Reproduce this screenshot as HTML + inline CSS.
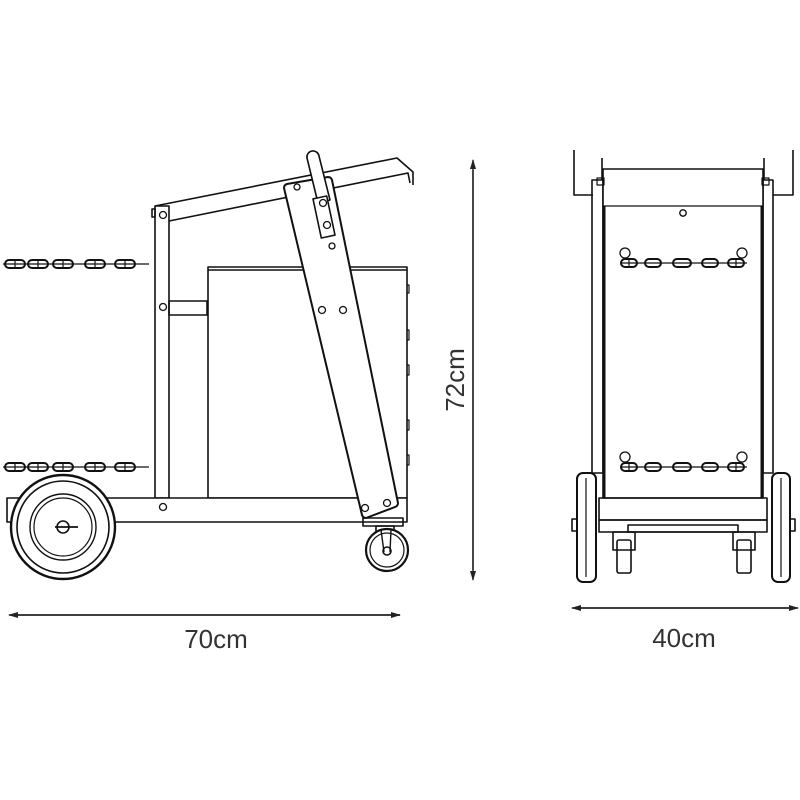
<!DOCTYPE html>
<html><head><meta charset="utf-8"><style>html,body{margin:0;padding:0;background:#fff}svg{display:block}</style></head>
<body>
<svg width="800" height="800" viewBox="0 0 800 800" xmlns="http://www.w3.org/2000/svg">
<defs>
<marker id="ar" markerWidth="10" markerHeight="6" refX="9" refY="3" orient="auto" markerUnits="userSpaceOnUse"><path d="M0,0 L10,3 L0,6 Z" fill="#222"/></marker>
<g id="chainH">
  <line x1="0" y1="0" x2="146" y2="0" stroke="#111" stroke-width="1.2"/>
  <rect x="2" y="-4" width="20" height="8" rx="4" fill="none" stroke="#111" stroke-width="2"/>
  <rect x="25" y="-4" width="20" height="8" rx="4" fill="none" stroke="#111" stroke-width="2"/>
  <rect x="50" y="-4" width="20" height="8" rx="4" fill="none" stroke="#111" stroke-width="2"/>
  <rect x="82" y="-4" width="20" height="8" rx="4" fill="none" stroke="#111" stroke-width="2"/>
  <rect x="112" y="-4" width="20" height="8" rx="4" fill="none" stroke="#111" stroke-width="2"/>
  <path d="M12,-4v8M35,-4v8M60,-4v8M92,-4v8M122,-4v8" stroke="#111" stroke-width="1.2"/>
</g>
<g id="chainF">
  <line x1="0" y1="0" x2="127" y2="0" stroke="#111" stroke-width="1.2"/>
  <circle cx="5" cy="-10" r="5" fill="none" stroke="#111" stroke-width="1.3"/>
  <circle cx="122" cy="-10" r="5" fill="none" stroke="#111" stroke-width="1.3"/>
  <rect x="1" y="-4" width="16" height="8" rx="4" fill="none" stroke="#111" stroke-width="2"/>
  <rect x="25" y="-4" width="16" height="8" rx="4" fill="none" stroke="#111" stroke-width="2"/>
  <rect x="53" y="-4" width="18" height="8" rx="4" fill="none" stroke="#111" stroke-width="2"/>
  <rect x="82" y="-4" width="16" height="8" rx="4" fill="none" stroke="#111" stroke-width="2"/>
  <rect x="108" y="-4" width="16" height="8" rx="4" fill="none" stroke="#111" stroke-width="2"/>
  <path d="M9,-4v8M116,-4v8" stroke="#111" stroke-width="1.2"/>
</g>
</defs>

<g fill="none" stroke="#111" stroke-width="1.6" stroke-linejoin="round">
<path d="M155,206 L397,158 L413,172 L413,185"/>
<path d="M169,221 L408,173 L410,183"/>
<rect x="155" y="206" width="14" height="292" fill="#fff"/>
<rect x="152" y="209" width="3" height="8"/>
<rect x="208" y="267" width="199" height="231" fill="#fff"/>
<line x1="208" y1="270" x2="407" y2="270"/>
<path d="M407,285 h2 v8 h-2 M407,330 h2 v10 h-2 M407,365 h2 v10 h-2 M407,420 h2 v10 h-2 M407,455 h2 v10 h-2" stroke-width="1.2"/>
<rect x="169" y="301" width="38" height="14"/>
<rect x="7" y="498" width="400" height="24" fill="#fff"/>
<path d="M287,184 L328,177 Q331,177 332,180 L398,503 Q398,506 395,507 L366,518 Q363,518 362,515 L284,188 Q284,185 287,184 Z" fill="#fff" stroke-width="2"/>
<path d="M307,158 a6,6 0 0 1 12,-2 L330,200 L318,203 Z" fill="#fff"/>
<rect x="317" y="197" width="14" height="40" transform="rotate(-12 324 217)" fill="#fff"/>
<g stroke-width="1.3">
<circle cx="163" cy="215" r="3.5"/><circle cx="163" cy="307" r="3.5"/><circle cx="163" cy="507" r="3.5"/>
<circle cx="297" cy="187" r="3"/><circle cx="323" cy="203" r="3.5"/><circle cx="327" cy="225" r="3.5"/><circle cx="332" cy="246" r="3"/>
<circle cx="322" cy="310" r="3.5"/><circle cx="343" cy="310" r="3.5"/><circle cx="365" cy="508" r="3.5"/><circle cx="387" cy="503" r="3.5"/>
</g>
<circle cx="63" cy="527" r="52" fill="#fff" stroke-width="2.4"/>
<circle cx="63" cy="527" r="46"/>
<circle cx="63" cy="527" r="33" stroke-width="1.4"/>
<circle cx="63" cy="527" r="29" stroke-width="1.2"/>
<circle cx="63" cy="527" r="6"/>
<line x1="55" y1="527" x2="78" y2="527" stroke-width="1.8"/>
<rect x="363" y="518" width="40" height="8"/>
<rect x="376" y="526" width="18" height="6"/>
<circle cx="387" cy="550" r="21" fill="#fff" stroke-width="2.2"/>
<circle cx="387" cy="550" r="17" stroke-width="1.2"/>
<path d="M381,530 L384,552 M391,530 L390,552" stroke-width="1.4"/>
<circle cx="387" cy="551" r="4" stroke-width="1.6"/>

<path d="M574,150 V195 H593"/>
<path d="M793,150 V195 H773"/>
<line x1="602" y1="158" x2="602" y2="180"/>
<line x1="764" y1="158" x2="764" y2="180"/>
<rect x="592" y="180" width="11" height="293"/>
<rect x="763" y="180" width="10" height="293"/>
<rect x="603" y="169" width="160" height="329" fill="#fff"/>
<line x1="603" y1="206" x2="763" y2="206" stroke-width="1.2"/>
<line x1="604" y1="206" x2="604" y2="498" stroke-width="3"/>
<line x1="762" y1="206" x2="762" y2="498" stroke-width="3"/>
<rect x="597" y="178" width="7" height="7" stroke-width="1.2"/>
<rect x="762" y="178" width="7" height="7" stroke-width="1.2"/>
<circle cx="683" cy="213" r="3.2" stroke-width="1.4"/>
<rect x="599" y="498" width="168" height="22"/>
<rect x="599" y="520" width="168" height="12"/>
<rect x="628" y="525" width="110" height="7"/>
<rect x="613" y="532" width="22" height="18"/>
<rect x="617" y="540" width="14" height="33" rx="2"/>
<rect x="733" y="532" width="22" height="18"/>
<rect x="737" y="540" width="14" height="33" rx="2"/>
<rect x="577" y="473" width="19" height="109" rx="6" fill="#fff" stroke-width="2"/>
<line x1="586" y1="478" x2="586" y2="577" stroke-width="1.2"/>
<rect x="572" y="519" width="5" height="12"/>
<rect x="772" y="473" width="18" height="109" rx="6" fill="#fff" stroke-width="2"/>
<line x1="781" y1="478" x2="781" y2="577" stroke-width="1.2"/>
<rect x="790" y="519" width="5" height="12"/>
</g>

<use href="#chainH" x="3" y="264"/>
<use href="#chainH" x="3" y="467"/>
<use href="#chainF" x="620" y="263"/>
<use href="#chainF" x="620" y="467"/>

<g stroke="#222" stroke-width="1.4">
<line x1="18" y1="615" x2="400" y2="615" marker-end="url(#ar)"/>
<line x1="400" y1="615" x2="9" y2="615" marker-end="url(#ar)"/>
<line x1="580" y1="608" x2="798" y2="608" marker-end="url(#ar)"/>
<line x1="790" y1="608" x2="572" y2="608" marker-end="url(#ar)"/>
<line x1="473" y1="170" x2="473" y2="580" marker-end="url(#ar)"/>
<line x1="473" y1="570" x2="473" y2="160" marker-end="url(#ar)"/>
</g>
<g font-family="Liberation Sans, sans-serif" font-size="26" fill="#333" text-anchor="middle">
<text x="216" y="648">70cm</text>
<text x="684" y="647">40cm</text>
<text x="0" y="0" transform="translate(464,380) rotate(-90)">72cm</text>
</g>
</svg>
</body></html>
